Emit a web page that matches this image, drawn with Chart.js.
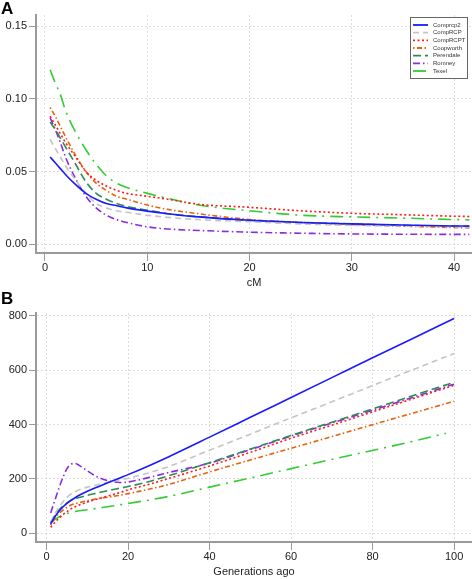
<!DOCTYPE html>
<html>
<head>
<meta charset="utf-8">
<script src="https://cdn.jsdelivr.net/npm/chart.js@4.4.1/dist/chart.umd.min.js"></script>
<style>
body { margin: 0; background: #fff; width: 472px; height: 579px; position: relative; overflow: hidden; font-family: "Liberation Sans", Arial, sans-serif; }
.panel { position: absolute; left: 0; width: 472px; }
.tag { position: absolute; left: 1px; font-weight: bold; font-size: 17px; line-height: 17px; color: #000; z-index: 2; }
</style>
</head>
<body>
<div class="tag" style="top:0px">A</div>
<div class="tag" style="top:290px">B</div>
<div class="panel" style="top:0;height:290px"><canvas id="chartA" width="472" height="290"></canvas></div>
<div class="panel" style="top:290px;height:289px"><canvas id="chartB" width="472" height="289"></canvas></div>
<script>
//-------------------
// DATA
//-------------------
var seriesNames = ["Comprcp2", "CompRCP", "CompRCPT", "Coopworth", "Perendale", "Romney", "Texel"];

// panel A: x = cM
var cmA = [0.5, 1, 1.5, 2, 3, 4, 5, 6, 7, 8, 10, 12, 15, 20, 25, 30, 35, 40, 41.5];
var comprcp2A  = [0.060, 0.056, 0.052, 0.048, 0.041, 0.035, 0.031, 0.028, 0.0265, 0.025, 0.0228, 0.021, 0.0188, 0.0165, 0.015, 0.014, 0.0132, 0.0126, 0.0125];
var compRCPA   = [0.072, 0.066, 0.060, 0.054, 0.044, 0.035, 0.028, 0.025, 0.023, 0.022, 0.020, 0.0185, 0.017, 0.0155, 0.014, 0.013, 0.0125, 0.012, 0.0118];
var compRCPTA  = [0.088, 0.082, 0.076, 0.070, 0.060, 0.050, 0.044, 0.040, 0.037, 0.035, 0.033, 0.031, 0.0275, 0.0254, 0.023, 0.0213, 0.0203, 0.0193, 0.0191];
var coopworthA = [0.094, 0.088, 0.081, 0.074, 0.061, 0.050, 0.042, 0.037, 0.033, 0.031, 0.027, 0.024, 0.021, 0.017, 0.015, 0.0135, 0.0125, 0.0115, 0.0113];
var perendaleA = [0.084, 0.079, 0.073, 0.067, 0.055, 0.043, 0.035, 0.031, 0.028, 0.026, 0.0235, 0.021, 0.019, 0.0165, 0.015, 0.014, 0.013, 0.0125, 0.0123];
var romneyA    = [0.087, 0.079, 0.070, 0.060, 0.045, 0.033, 0.025, 0.020, 0.017, 0.015, 0.012, 0.0105, 0.0095, 0.0083, 0.0076, 0.0071, 0.0069, 0.0068, 0.0068];
var texelA     = [0.120, 0.111, 0.103, 0.092, 0.077, 0.065, 0.055, 0.047, 0.042, 0.039, 0.035, 0.0316, 0.027, 0.023, 0.020, 0.0188, 0.018, 0.017, 0.0168];
var xTicksA = [0, 10, 20, 30, 40];
var yTicksA = [0, 0.05, 0.10, 0.15];

// panel B: x = generations ago
var gensB = [1, 2, 3, 4, 5, 6, 7, 8, 10, 12, 15, 18, 20, 25, 30, 40, 50, 60, 70, 80, 90, 100];
var texelGensB = [1, 2, 3, 4, 5, 6, 7, 8, 10, 12, 15, 18, 20, 25, 30, 40, 50, 60, 70, 80, 90, 98];
var comprcp2B  = [35, 60, 80, 97, 110, 121, 131, 140, 155, 168, 186, 204, 216, 248, 282, 354, 427, 500, 573, 646, 718, 791];
var compRCPB   = [40, 70, 95, 115, 132, 145, 153, 160, 170, 177, 188, 197, 203, 222, 246, 306, 365, 425, 484, 544, 603, 662];
var compRCPTB  = [22, 40, 55, 68, 80, 90, 98, 104, 115, 124, 137, 150, 160, 180, 202, 248, 298, 350, 398, 447, 496, 545];
var coopworthB = [30, 55, 72, 85, 96, 104, 109, 113, 120, 126, 133, 140, 146, 162, 180, 226, 270, 313, 356, 400, 443, 486];
var perendaleB = [40, 65, 85, 100, 112, 122, 127, 132, 140, 147, 157, 166, 172, 190, 212, 260, 310, 360, 409, 458, 507, 556];
var romneyB    = [75, 120, 165, 205, 238, 255, 257, 250, 230, 211, 194, 187, 189, 205, 224, 258, 308, 358, 406, 453, 501, 549];
var texelB     = [38, 50, 60, 67, 73, 77, 80, 83, 87, 91, 98, 105, 110, 122, 136, 170, 204, 238, 272, 305, 339, 368];
var xTicksB = [0, 20, 40, 60, 80, 100];
var yTicksB = [0, 200, 400, 600, 800];

//-------------------
// STYLES
//-------------------
var lineColors = ["#1a1aff", "#c4c4c4", "#ff1a1a", "#e8620a", "#2e8b57", "#8a2be2", "#32cd32"];
var lineDashes = [[], [6, 4], [2, 2.5], [1.5, 2.5, 5, 2.5], [8, 4], [7, 3, 1.5, 3], [13, 6, 2, 6]];
var axisGray = "#9a9a9a";
var gridGray = "#dcdcdc";
var fontFam = '"Liberation Sans", Arial, sans-serif';

function toPoints(xs, ys) {
    return xs.map(function (x, i) { return { x: x, y: ys[i] }; });
}

function makeDatasets(xsList, ysList) {
    return ysList.map(function (ys, i) {
        return {
            label: seriesNames[i],
            data: toPoints(xsList[i], ys),
            borderColor: lineColors[i],
            borderDash: lineDashes[i],
            borderWidth: 1.6,
            pointRadius: 0,
            showLine: true,
            fill: false,
            cubicInterpolationMode: "monotone"
        };
    });
}

function makeAxis(min, max, ticks, fmt, title, fitSize, isY) {
    var ax = {
        type: "linear",
        min: min,
        max: max,
        afterBuildTicks: function (scale) {
            scale.ticks = ticks.map(function (v) { return { value: v }; });
        },
        afterFit: function (scale) {
            if (isY) scale.width = fitSize; else scale.height = fitSize;
        },
        grid: {
            color: gridGray,
            lineWidth: 1,
            drawTicks: true,
            tickLength: isY ? 7 : 8,
            tickColor: axisGray,
            tickWidth: 1,
            tickBorderDash: []
        },
        border: { display: true, color: axisGray, width: 2, dash: [2, 2] },
        ticks: {
            color: "#222",
            font: { family: fontFam, size: 11 },
            padding: isY ? 2 : 0,
            maxRotation: 0,
            autoSkip: false,
            callback: fmt
        }
    };
    if (title) {
        ax.title = { display: true, text: title, color: "#222", font: { family: fontFam, size: 11 }, padding: { top: 0, bottom: 0 } };
    }
    return ax;
}

// legend box drawn inside panel A
var legendBoxPlugin = {
    id: "legendBox",
    afterDatasetsDraw: function (chart) {
        var ctx = chart.ctx;
        ctx.save();
        ctx.fillStyle = "#fff";
        ctx.fillRect(410.5, 17.5, 57, 61);
        ctx.strokeStyle = "#666";
        ctx.lineWidth = 1;
        ctx.strokeRect(410.5, 17.5, 57, 61);
        chart.data.datasets.forEach(function (ds, i) {
            var y = 25 + i * 7.67;
            ctx.strokeStyle = ds.borderColor;
            ctx.setLineDash(ds.borderDash);
            ctx.lineWidth = 1.8;
            ctx.beginPath();
            ctx.moveTo(413, y);
            ctx.lineTo(428, y);
            ctx.stroke();
            ctx.setLineDash([]);
            ctx.fillStyle = "#333";
            ctx.font = '6px ' + fontFam;
            ctx.textBaseline = "middle";
            ctx.fillText(ds.label, 433, y);
        });
        ctx.restore();
    }
};

var commonOpts = {
    responsive: false,
    animation: false,
    plugins: { legend: { display: false }, tooltip: { enabled: false } }
};

//-------------------
// Panel A
//-------------------
var ctxA = document.getElementById("chartA").getContext("2d");
new Chart(ctxA, {
    type: "scatter",
    data: {
        datasets: makeDatasets(
            [cmA, cmA, cmA, cmA, cmA, cmA, cmA],
            [comprcp2A, compRCPA, compRCPTA, coopworthA, perendaleA, romneyA, texelA]
        )
    },
    options: Object.assign({}, commonOpts, {
        layout: { padding: { top: 15, right: 0, left: 0, bottom: 0 } },
        scales: {
            x: makeAxis(-0.88, 41.76, xTicksA, function (v) { return String(v); }, "cM", 37, false),
            y: makeAxis(-0.006, 0.1576, yTicksA, function (v) { return v.toFixed(2); }, null, 36, true)
        }
    }),
    plugins: [legendBoxPlugin]
});

//-------------------
// Panel B
//-------------------
var ctxB = document.getElementById("chartB").getContext("2d");
new Chart(ctxB, {
    type: "scatter",
    data: {
        datasets: makeDatasets(
            [gensB, gensB, gensB, gensB, gensB, gensB, texelGensB],
            [comprcp2B, compRCPB, compRCPTB, coopworthB, perendaleB, romneyB, texelB]
        )
    },
    options: Object.assign({}, commonOpts, {
        layout: { padding: { top: 23, right: 0, left: 0, bottom: 0 } },
        scales: {
            x: makeAxis(-2.6, 104.4, xTicksB, function (v) { return String(v); }, "Generations ago", 37, false),
            y: makeAxis(-32, 811, yTicksB, function (v) { return String(v); }, null, 36, true)
        }
    })
});
</script>
</body>
</html>
